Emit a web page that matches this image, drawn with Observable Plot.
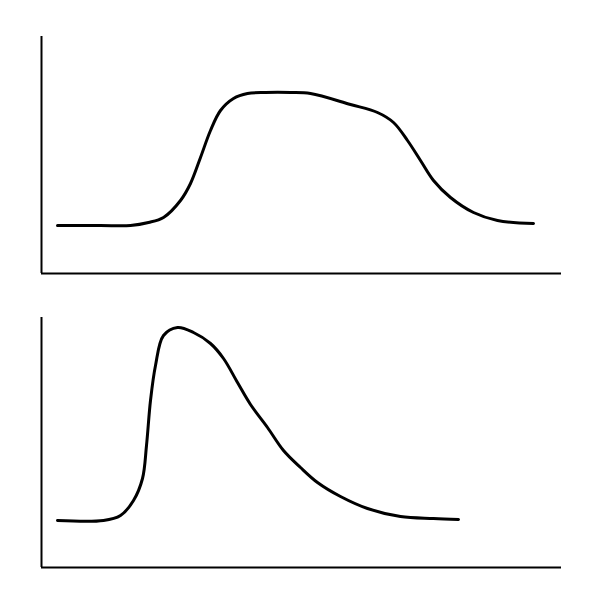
<!DOCTYPE html>
<html>
<head>
<meta charset="utf-8">
<script src="https://cdn.jsdelivr.net/npm/d3@7"></script>
<script src="https://cdn.jsdelivr.net/npm/@observablehq/plot@0.6"></script>
<style>
  html, body { margin: 0; padding: 0; background: #fff; }
  #chart svg { display: block; }
</style>
</head>
<body>
<div id="chart"></div>
<script>
// Top panel: plateau-shaped curve (x, y in chart units)
const topX = [16, 59, 89, 107, 122, 139, 149, 159, 169, 179, 192, 206, 224, 249, 269, 309, 336, 352, 366, 379, 392, 409, 432, 456, 492];
const topY = [48, 48, 48, 51, 56, 73, 90, 116, 143, 163, 175, 180, 181, 181, 180, 169, 161, 151, 133, 113, 93, 76, 61, 53, 50];

// Bottom panel: sharp-peak curve
const botX = [16, 62, 79, 92, 101, 105, 109, 114, 122, 136, 152, 169, 182, 196, 209, 226, 242, 259, 276, 299, 326, 359, 392, 417];
const botY = [47, 47, 52, 67, 89, 122, 167, 202, 232, 240, 235, 224, 209, 185, 163, 140, 117, 100, 85, 71, 59, 51, 49, 48];

const topData = topX.map((x, i) => ({x, y: topY[i]}));
const botData = botX.map((x, i) => ({x, y: botY[i]}));

function panel(data, yMax, marginTop, marginBottom) {
  return Plot.plot({
    width: 600,
    height: 300,
    marginLeft: 41,
    marginRight: 39,
    marginTop,
    marginBottom,
    x: {domain: [0, 520], axis: null},
    y: {domain: [0, yMax], axis: null},
    marks: [
      Plot.ruleX([0], {stroke: "#000", strokeWidth: 2}),
      Plot.ruleY([0], {stroke: "#000", strokeWidth: 2}),
      Plot.line(data, {x: "x", y: "y", stroke: "#000", strokeWidth: 3, curve: "catmull-rom"})
    ]
  });
}

const el = document.getElementById("chart");
el.appendChild(panel(topData, 237, 36, 27));
el.appendChild(panel(botData, 250, 17, 33));
</script>
</body>
</html>
